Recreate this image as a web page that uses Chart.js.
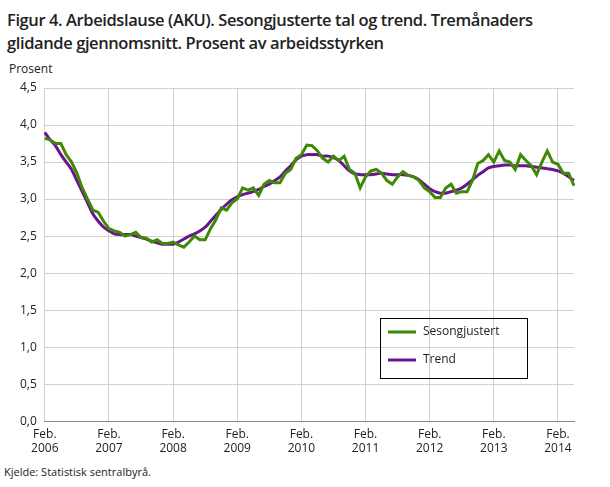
<!DOCTYPE html>
<html><head><meta charset="utf-8">
<script src="https://cdn.jsdelivr.net/npm/chart.js@4"></script>
<style>
body{margin:0;width:610px;height:487px;position:relative;font-family:"Open Sans",sans-serif;background:#fff;overflow:hidden}
#t{position:absolute;left:7px;top:8px;font-size:16.5px;font-weight:600;line-height:23px;color:#222;letter-spacing:-0.4px}
#p{position:absolute;left:9px;top:60px;font-size:12px;color:#222}
#s{position:absolute;left:4px;top:464px;font-size:11px;color:#222}
#c{position:absolute;left:0;top:0}
</style></head><body>
<div id="t">Figur 4. Arbeidslause (AKU). Sesongjusterte tal og trend. Tremånaders<br>glidande gjennomsnitt. Prosent av arbeidsstyrken</div>
<div id="p">Prosent</div>
<div id="s">Kjelde: Statistisk sentralbyrå.</div>
<canvas id="c" width="610" height="487"></canvas>
<script>
const years=["2006","2007","2008","2009","2010","2011","2012","2013","2014"];
const seasonal=[3.82,3.8,3.75,3.75,3.6,3.5,3.35,3.15,3.0,2.85,2.82,2.7,
2.6,2.57,2.55,2.5,2.52,2.55,2.48,2.47,2.42,2.45,2.4,2.4,
2.42,2.38,2.35,2.42,2.5,2.45,2.45,2.6,2.72,2.88,2.85,2.95,
3.0,3.15,3.12,3.15,3.05,3.2,3.25,3.22,3.22,3.35,3.4,3.55,
3.6,3.73,3.72,3.65,3.55,3.5,3.58,3.52,3.58,3.4,3.35,3.15,
3.3,3.38,3.4,3.35,3.25,3.2,3.3,3.37,3.32,3.3,3.25,3.15,
3.1,3.02,3.02,3.15,3.2,3.08,3.1,3.1,3.25,3.48,3.52,3.6,
3.5,3.65,3.52,3.5,3.4,3.6,3.52,3.45,3.33,3.5,3.65,3.5,
3.47,3.35,3.35,3.18];
const trend=[3.9,3.8,3.72,3.6,3.5,3.4,3.25,3.1,2.95,2.8,2.7,2.62,
2.57,2.53,2.52,2.52,2.52,2.5,2.48,2.46,2.43,2.41,2.39,2.39,
2.39,2.42,2.46,2.5,2.53,2.57,2.62,2.7,2.78,2.86,2.93,2.99,
3.03,3.06,3.08,3.1,3.13,3.17,3.2,3.25,3.3,3.38,3.45,3.53,
3.58,3.6,3.6,3.6,3.58,3.58,3.56,3.52,3.45,3.38,3.34,3.33,
3.33,3.33,3.34,3.35,3.34,3.33,3.33,3.33,3.32,3.3,3.26,3.2,
3.14,3.1,3.08,3.08,3.1,3.12,3.15,3.2,3.26,3.32,3.37,3.42,
3.44,3.45,3.46,3.46,3.45,3.45,3.45,3.44,3.43,3.42,3.41,3.4,
3.38,3.35,3.3,3.25];
const labels=seasonal.map((v,i)=>i%12===0?["Feb.",years[i/12]]:"");
const green="#3f8a05",purple="#6a1590";
const legendPlugin={id:"lg",afterDraw(ch){
 const c=ch.ctx;c.save();
 c.strokeStyle="#000";c.lineWidth=1;c.strokeRect(380.5,318.5,147,60);
 c.font="12px 'Open Sans'";c.fillStyle="#222";c.textBaseline="middle";
 [[green,"Sesongjustert",332],[purple,"Trend",360]].forEach(([col,t,y])=>{
  c.strokeStyle=col;c.lineWidth=3;c.beginPath();c.moveTo(388,y);c.lineTo(416,y);c.stroke();
  c.fillText(t,423,y);});
 c.restore();}};
new Chart(document.getElementById("c"),{type:"line",
data:{labels,datasets:[
 {label:"Sesongjustert",data:seasonal,borderColor:green,borderWidth:3,pointRadius:0,tension:0},
 {label:"Trend",data:trend,borderColor:purple,borderWidth:3,pointRadius:0,tension:0.3}]},
options:{responsive:false,animation:false,
 layout:{padding:{top:88,left:12,right:36,bottom:25}},
 plugins:{legend:{display:false},tooltip:{enabled:false}},
 scales:{
  x:{offset:false,grid:{color:c=>c.index%12===0?"#d0d0d0":"transparent",drawTicks:false},border:{color:"#888"},
   ticks:{autoSkip:false,maxRotation:0,padding:6,color:"#222",font:{family:"Open Sans",size:12}}},
  y:{min:0,max:4.5,grid:{color:"#d0d0d0",drawTicks:false},border:{display:false},
   ticks:{stepSize:0.5,padding:8,color:"#222",font:{family:"Open Sans",size:12},callback:v=>v.toFixed(1).replace(".",",")}}}},
plugins:[legendPlugin]});
</script></body></html>
